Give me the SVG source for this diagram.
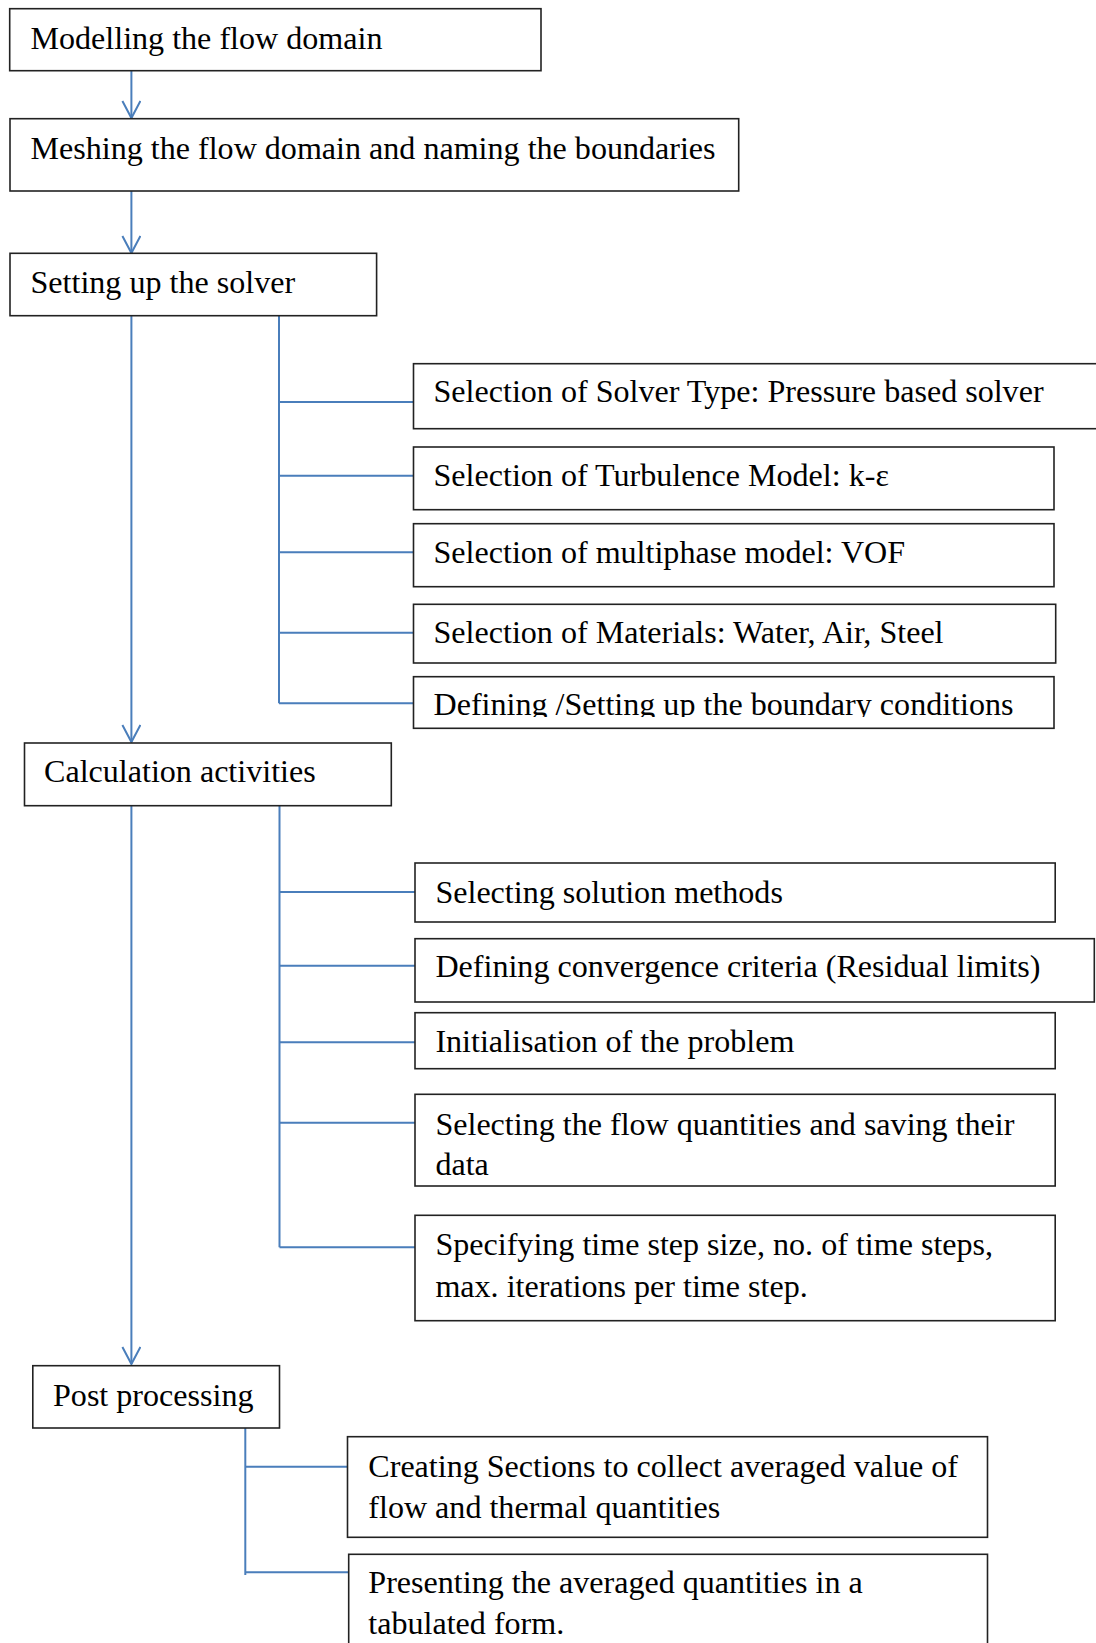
<svg xmlns="http://www.w3.org/2000/svg" width="1096" height="1643" viewBox="0 0 1096 1643">
<style>
.box{fill:#fff;stroke:#222;stroke-width:1.6}
.t{font-family:"Liberation Serif","Times New Roman",serif;font-size:32.1px;fill:#000}
.c{fill:none;stroke:#4a7ebb;stroke-width:2}
</style>
<defs>
<marker id="arr" markerWidth="22" markerHeight="22" refX="18" refY="10" orient="auto" markerUnits="userSpaceOnUse">
<path d="M1,1 L18,10 L1,19" fill="none" stroke="#4a7ebb" stroke-width="2"/>
</marker>
<clipPath id="clipE"><rect x="413" y="676" width="645" height="41"/></clipPath>
</defs>
<rect width="1096" height="1643" fill="#fff"/>
<g id="connectors">
<line class="c" x1="131.4" y1="71" x2="131.4" y2="118" marker-end="url(#arr)"/>
<line class="c" x1="131.4" y1="191" x2="131.4" y2="253" marker-end="url(#arr)"/>
<line class="c" x1="131.4" y1="316" x2="131.4" y2="742" marker-end="url(#arr)"/>
<path class="c" d="M279,316 V703.3"/>
<path class="c" d="M279,402 H413.5 M279,475.7 H413.5 M279,552.3 H413.5 M279,632.7 H413.5 M279,703.3 H413.5"/>
<line class="c" x1="131.4" y1="806" x2="131.4" y2="1364" marker-end="url(#arr)"/>
<path class="c" d="M279.5,806 V1247.3"/>
<path class="c" d="M279.5,892 H415 M279.5,965.7 H415 M279.5,1042.3 H415 M279.5,1122.7 H415 M279.5,1247.3 H415"/>
<path class="c" d="M245.3,1428 V1575"/>
<path class="c" d="M245.3,1466.7 H347.5 M245.3,1572.3 H348.7"/>
</g>
<g id="n1"><rect class="box" x="9.7" y="8.7" width="531.3" height="62"/><text class="t" x="30.5" y="48.5">Modelling the flow domain</text></g>
<g id="n2"><rect class="box" x="10" y="118.7" width="728.7" height="72.3"/><text class="t" x="30.5" y="158.7">Meshing the flow domain and naming the boundaries</text></g>
<g id="n3"><rect class="box" x="10" y="253.3" width="366.6" height="62.4"/><text class="t" x="30.5" y="293.3">Setting up the solver</text></g>
<g id="nA"><rect class="box" x="413.5" y="363.7" width="700" height="65"/><text class="t" x="433.5" y="402.3">Selection of Solver Type: Pressure based solver</text></g>
<g id="nB"><rect class="box" x="413.5" y="447" width="640.5" height="62.7"/><text class="t" x="433.5" y="486">Selection of Turbulence Model: k-ε</text></g>
<g id="nC"><rect class="box" x="413.5" y="523.7" width="640.5" height="63"/><text class="t" x="433.5" y="562.7">Selection of multiphase model: VOF</text></g>
<g id="nD"><rect class="box" x="413.5" y="604.3" width="642.2" height="58.7"/><text class="t" x="433.5" y="643.3">Selection of Materials: Water, Air, Steel</text></g>
<g id="nE"><rect class="box" x="413.5" y="676.7" width="640.5" height="51.6"/><text class="t" x="433.5" y="715" clip-path="url(#clipE)">Defining /Setting up the boundary conditions</text></g>
<g id="n4"><rect class="box" x="24.5" y="743" width="366.8" height="62.7"/><text class="t" x="44" y="782.3">Calculation activities</text></g>
<g id="nF"><rect class="box" x="415" y="863" width="640.2" height="59"/><text class="t" x="435.4" y="902.7">Selecting solution methods</text></g>
<g id="nG"><rect class="box" x="415" y="938.7" width="679.3" height="63.3"/><text class="t" x="435.4" y="977.3">Defining convergence criteria (Residual limits)</text></g>
<g id="nH"><rect class="box" x="415" y="1012.7" width="640.2" height="56"/><text class="t" x="435.4" y="1051.7">Initialisation of the problem</text></g>
<g id="nI"><rect class="box" x="415" y="1094.3" width="640.2" height="91.7"/><text class="t" x="435.4" y="1134.8">Selecting the flow quantities and saving their</text><text class="t" x="435.4" y="1175">data</text></g>
<g id="nJ"><rect class="box" x="415" y="1215.3" width="640.2" height="105.4"/><text class="t" x="435.4" y="1255">Specifying time step size, no. of time steps,</text><text class="t" x="435.4" y="1296.7">max. iterations per time step.</text></g>
<g id="n5"><rect class="box" x="32.8" y="1365.7" width="246.7" height="62.3"/><text class="t" x="53" y="1406">Post processing</text></g>
<g id="nK"><rect class="box" x="347.5" y="1436.7" width="640" height="100.6"/><text class="t" x="368.3" y="1476.7">Creating Sections to collect averaged value of</text><text class="t" x="368.3" y="1518.3">flow and thermal quantities</text></g>
<g id="nL"><rect class="box" x="348.7" y="1554.3" width="638.8" height="110"/><text class="t" x="368.3" y="1593.3">Presenting the averaged quantities in a</text><text class="t" x="368.3" y="1634">tabulated form.</text></g>
</svg>
